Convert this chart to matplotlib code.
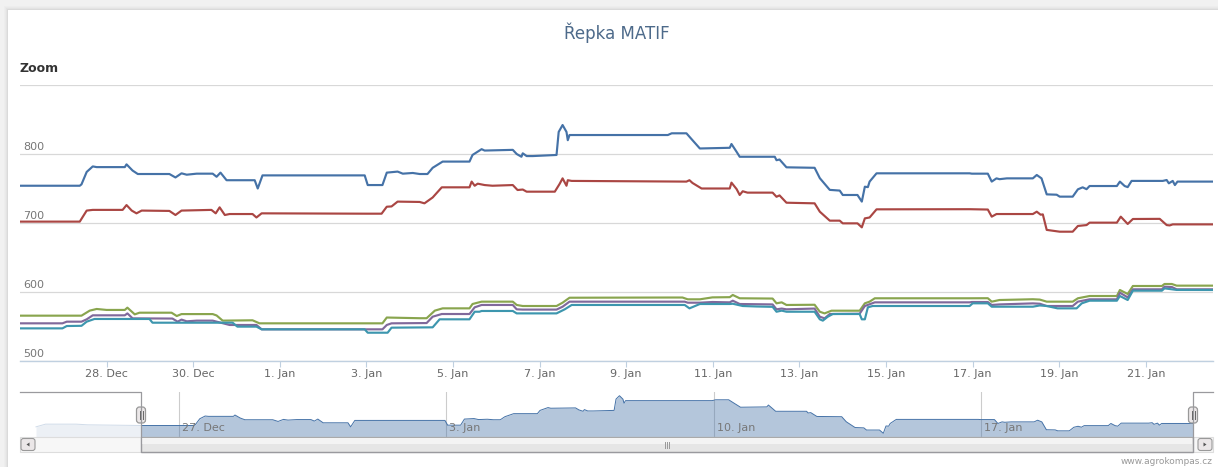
import numpy as np
import matplotlib
matplotlib.use("Agg")
import matplotlib.pyplot as plt
import matplotlib.dates as mdates
import matplotlib.transforms as mtransforms
from matplotlib.patches import Rectangle, FancyBboxPatch, Polygon

# ---------------- data ----------------
TITLE = "Řepka MATIF"
START = "2012-12-26"          # day offsets below are counted from this date
VIEW_END = 27.55              # end of the zoomed window (days)

blue_days = [-2.75, -2.5, -1.7, -1.4, 0, 1.38, 1.42, 1.54, 1.68, 1.77, 2.42, 2.46, 2.60, 2.72, 3.45, 3.59,
             3.73, 3.85, 4.08, 4.45, 4.54, 4.63, 4.77, 5.42, 5.49, 5.60, 7.96, 8.03, 8.37, 8.47, 8.72, 8.84,
             9.07, 9.23, 9.41, 9.53, 9.76, 10.38, 10.45, 10.66, 10.73, 11.38, 11.47, 11.58, 11.61, 11.70,
             11.84, 12.39, 12.44, 12.53, 12.62, 12.65, 12.69, 14.96, 15.05, 15.39, 15.53, 15.70, 16.39,
             16.43, 16.55, 16.62, 17.43, 17.47, 17.54, 17.70, 18.35, 18.47, 18.70, 18.93, 19.00, 19.34,
             19.44, 19.51, 19.58, 19.62, 19.78, 21.93, 21.98, 22.35, 22.44, 22.55, 22.62, 22.79, 23.39,
             23.48, 23.59, 23.71, 23.94, 24.01, 24.31, 24.43, 24.54, 24.63, 24.70, 25.33, 25.40, 25.51,
             25.58, 25.67, 26.39, 26.48, 26.53, 26.62, 26.67, 26.73, 27.59]
blue_vals = [750, 758, 758, 756, 754, 754, 756, 774, 782, 781, 781, 785, 776, 771, 771, 766,
             772, 770, 771.5, 771.5, 767, 773, 762, 762, 750, 769, 769, 755, 755, 773, 774.5, 771.5,
             772.5, 771, 771, 780, 789, 789, 798.6, 807, 805, 806, 800, 796, 801, 797,
             797, 798.6, 832, 842, 832, 820, 827.5, 827.5, 830, 830, 820, 808, 809,
             814.5, 803, 796, 796, 791, 792, 780.7, 780, 765, 748, 747, 740.6, 740.6,
             731, 752.6, 752, 760, 772, 772, 771.5, 771.5, 760, 764.7, 763.5, 764.7, 764.7,
             769.6, 764.7, 741.5, 741, 738.2, 738.2, 748.8, 751.7, 749, 753.6, 753.6, 760, 753.6,
             752, 761, 761, 762.3, 757.5, 761, 755, 760, 760]

red_days = [0, 1.38, 1.54, 1.68, 2.37, 2.46, 2.58, 2.69, 2.81, 3.45, 3.59, 3.73, 4.42, 4.52, 4.61, 4.73,
            4.84, 5.37, 5.46, 5.58, 8.00, 8.35, 8.47, 8.58, 8.72, 9.23, 9.34, 9.53, 9.74, 10.38, 10.43,
            10.50, 10.57, 10.73, 10.91, 11.38, 11.49, 11.61, 11.70, 12.35, 12.46, 12.53, 12.62, 12.65,
            12.74, 15.39, 15.46, 15.53, 15.74, 16.39, 16.43, 16.55, 16.62, 16.69, 16.80, 17.38, 17.47,
            17.54, 17.70, 18.35, 18.47, 18.70, 18.93, 19.00, 19.34, 19.44, 19.51, 19.62, 19.78, 21.93,
            22.35, 22.44, 22.55, 23.39, 23.48, 23.57, 23.62, 23.71, 24.01, 24.31, 24.43, 24.63, 24.70,
            25.33, 25.42, 25.58, 25.70, 26.32, 26.48, 26.55, 26.62, 27.59]
red_vals = [702, 702, 718, 719, 719, 726, 718, 714, 718, 717.5, 711.6, 718, 719, 714, 722.7, 711.6,
            713, 713, 708, 714, 713.5, 713.5, 723.6, 724, 731, 730.5, 728.5, 737, 751.7, 751.7, 760,
            754, 757, 755, 754, 755, 747.8, 748.5, 745.4, 745.4, 756.5, 764.7, 754, 762,
            761, 760, 762, 758, 750, 750, 758.5, 749, 740.6, 746, 744, 744, 738,
            740, 729.4, 728.5, 716.4, 703.4, 703.4, 699.5, 699.5, 693.7, 706.7, 708, 719.8, 720,
            719.5, 709.2, 713, 713, 716.4, 712, 712.5, 690, 687.4, 687.4, 695.7, 697, 700.5,
            700.5, 709.2, 698.6, 705.8, 706, 697, 696.5, 698, 698]

green_days = [0, 1.42, 1.61, 1.77, 2.00, 2.42, 2.48, 2.65, 2.76, 3.50, 3.62, 3.73, 4.45, 4.54, 4.68, 5.37,
              5.53, 8.37, 8.47, 9.23, 9.39, 9.58, 9.76, 10.38, 10.45, 10.66, 11.38, 11.47, 11.61, 12.39,
              12.53, 12.69, 15.00, 15.30, 15.42, 15.70, 15.99, 16.39, 16.46, 16.62, 17.38, 17.47, 17.59,
              17.70, 18.35, 18.47, 18.58, 18.74, 19.39, 19.51, 19.62, 19.74, 21.93, 22.35, 22.44, 22.62,
              23.39, 23.55, 23.71, 24.31, 24.43, 24.70, 25.33, 25.40, 25.58, 25.70, 26.37, 26.43, 26.60,
              26.71, 27.59]
green_vals = [565.7, 565.7, 573, 575.4, 574, 574, 577.3, 567.6, 570, 570, 565.2, 568, 568, 566, 558.5, 559,
              554.6, 554.6, 563, 562, 562, 573, 576.3, 576.3, 582.6, 586, 586, 581.2, 579.7, 579.7,
              584.5, 591.7, 592, 592, 589.4, 589.4, 592.2, 592.5, 595.7, 590.9, 590.5, 583.6, 585,
              581.2, 581.5, 571.4, 569, 572.9, 572.9, 583.6, 586, 590.9, 590.9, 591, 586, 588.4,
              589.5, 589, 586, 586, 590.9, 594.2, 594.2, 602.9, 597.1, 608.7, 608.7, 611.6, 611.6,
              609.2, 609.2]

purple_days = [0, 0.98, 1.08, 1.42, 1.54, 1.68, 2.42, 2.48, 2.60, 3.52, 3.64, 3.73, 3.85, 4.08, 4.45, 4.84,
               5.46, 5.58, 8.37, 8.47, 8.58, 9.39, 9.53, 9.74, 10.38, 10.50, 10.66, 11.38, 11.47, 11.61,
               12.39, 12.53, 12.69, 15.35, 15.42, 15.70, 15.99, 16.39, 16.46, 16.62, 17.38, 17.47, 17.59,
               17.70, 18.35, 18.47, 18.58, 18.70, 19.39, 19.51, 19.74, 21.93, 21.98, 22.35, 22.44, 22.62,
               23.39, 23.55, 23.71, 24.31, 24.43, 24.70, 25.33, 25.40, 25.58, 25.70, 26.37, 26.43, 26.60,
               26.71, 27.59]
purple_vals = [554.6, 554.6, 557, 557, 560.4, 566.2, 566.2, 569, 561.8, 561.5, 557, 560, 557.5, 558.5, 558.5, 552.2,
               552.2, 545.9, 545.9, 552.2, 554.6, 555, 564.2, 568.1, 568.1, 577.8, 581.2, 581.2, 574.9, 574.5,
               574.5, 578.7, 586, 586, 584.5, 584.5, 585.5, 585, 587.4, 582.6, 582, 574.9, 576,
               574.9, 576, 564.2, 561.8, 568.1, 568.5, 579.7, 585, 585, 585.5, 585.5, 581.2, 582,
               583.5, 583, 579.7, 579.7, 586, 589.4, 589.4, 599, 592.2, 603.9, 603.9, 607.7, 607.2,
               603.9, 603.9]

teal_days = [0, 0.98, 1.08, 1.42, 1.54, 1.72, 2.99, 3.06, 4.91, 5.02, 5.46, 5.58, 7.96, 8.03, 8.49, 8.58,
             9.53, 9.69, 10.38, 10.50, 10.61, 10.66, 11.38, 11.47, 12.39, 12.58, 12.74, 15.35, 15.46, 15.70,
             16.39, 16.46, 16.69, 17.01, 17.38, 17.47, 17.59, 17.70, 18.35, 18.47, 18.54, 18.65, 18.77,
             19.39, 19.44, 19.51, 19.58, 19.69, 21.93, 22.00, 22.35, 22.44, 23.39, 23.55, 23.71, 23.96,
             24.40, 24.52, 24.70, 25.33, 25.40, 25.58, 25.70, 26.37, 26.43, 26.71, 27.59]
teal_vals = [547.3, 547.3, 550.7, 551, 557, 560.9, 560.9, 555.5, 555.5, 549.8, 549.8, 545.9, 545.9, 541, 541, 548.3,
             548.8, 560.4, 560.4, 571.4, 571.4, 572.5, 572.5, 569, 569, 574.9, 581.2, 581.2, 576.3, 582.6,
             582.6, 583, 579.7, 579, 578.5, 571.4, 573, 571.4, 571.4, 560.4, 558.5, 564, 568.1,
             568.1, 560.4, 560.4, 577.8, 579.7, 579.7, 583.6, 583.6, 578.7, 578.7, 580.5, 579.7, 576.3,
             576.3, 583.6, 587.4, 587.4, 594.2, 588.4, 601.9, 601.9, 605.3, 603, 602.9]

series = [
    (blue_days, blue_vals, "#4572A7"),
    (red_days, red_vals, "#AA4643"),
    (green_days, green_vals, "#89A54E"),
    (purple_days, purple_vals, "#80699B"),
    (teal_days, teal_vals, "#3D96AE"),
]

x_tick_dates = ["2012-12-28", "2012-12-30", "2013-01-01", "2013-01-03", "2013-01-05", "2013-01-07",
                "2013-01-09", "2013-01-11", "2013-01-13", "2013-01-15", "2013-01-17", "2013-01-19",
                "2013-01-21"]
nav_tick_dates = ["2012-12-27", "2013-01-03", "2013-01-10", "2013-01-17"]
y_ticks = [500, 600, 700, 800, 900]
y_labels = ["500", "600", "700", "800"]
NAV_YLIM = (720, 853)

# ---------------- helpers ----------------
W, H = 1218, 467
base = mdates.date2num(np.datetime64(START))


def to_x(days):
    return base + np.asarray(days, dtype=float)


def fmt_date(s):
    d = mdates.num2date(mdates.date2num(np.datetime64(s)))
    return f"{d.day}. {d.strftime('%b')}"


def fig_rect(x0, y0, x1, y1):
    return [x0 / W, 1 - y1 / H, (x1 - x0) / W, (y1 - y0) / H]


fig = plt.figure(figsize=(W / 100, H / 100), dpi=100)
fig.patch.set_facecolor("#f1f1f1")

# background card
bg = fig.add_axes([0, 0, 1, 1], zorder=-10)
bg.set_xlim(0, W)
bg.set_ylim(H, 0)
bg.axis("off")
for i, a in enumerate([0.04, 0.05, 0.07, 0.1]):
    bg.add_patch(Rectangle((8 - 4 + i, 10 - 4 + i), W, H, facecolor="#000000", alpha=a * 0.35, lw=0))
bg.add_patch(Rectangle((8, 10), W, H, facecolor="white", lw=0))

# ---------------- main chart ----------------
ax = fig.add_axes(fig_rect(20, 85, 1213, 361))
ax.set_facecolor("none")
for d, v, c in series:
    ax.plot(to_x(d), v, color=c, lw=1.55, solid_joinstyle="round", zorder=3)
ax.set_xlim(base, base + VIEW_END)
ax.set_ylim(y_ticks[0], y_ticks[-1])
ax.set_yticks(y_ticks)
ax.yaxis.grid(True, color="#d8d8d8", lw=0.9)
ax.tick_params(axis="y", length=0, labelleft=False)
for s in ["top", "right", "left"]:
    ax.spines[s].set_visible(False)
ax.spines["bottom"].set_color("#c0d0e0")
ax.spines["bottom"].set_linewidth(1.0)
xt = [mdates.date2num(np.datetime64(s)) for s in x_tick_dates]
ax.set_xticks(xt)
ax.set_xticklabels([fmt_date(s) for s in x_tick_dates])
ax.tick_params(axis="x", length=4, width=0.8, color="#c0d0e0", labelsize=8, labelcolor="#666666", pad=1.5)
off = mtransforms.offset_copy(ax.get_yaxis_transform(), fig=fig, x=3, y=2, units="dots")
for v, lab in zip(y_ticks, y_labels):
    ax.text(0, v, lab, transform=off, ha="left", va="bottom", fontsize=8, color="#777777")

fig.text(617 / W, 1 - 33 / H, TITLE, ha="center", va="center", fontsize=12, color="#4d6a8a")
fig.text(20 / W, 1 - 68 / H, "Zoom", ha="left", va="center", fontsize=9, fontweight="bold", color="#333333")
fig.text(1213 / W, 1 - 461 / H, "www.agrokompas.cz", ha="right", va="center", fontsize=6.5, color="#999999")

# ---------------- navigator ----------------
pxd = (1193 - 141) / VIEW_END
nav_left = -121 / pxd
nav_right = VIEW_END + 20 / pxd
nav = fig.add_axes(fig_rect(20, 392, 1213, 437))
nav.set_facecolor("none")
nx = to_x(blue_days)
nav.fill_between(nx, NAV_YLIM[0], blue_vals, color="#4572A7", alpha=0.4, lw=0, zorder=2)
nav.plot(nx, blue_vals, color="#4572A7", lw=0.7, zorder=3)
nav.set_xlim(base + nav_left, base + nav_right)
nav.set_ylim(*NAV_YLIM)
nav.axis("off")
for s in nav_tick_dates:
    t = mdates.date2num(np.datetime64(s))
    nav.axvline(t, color="#cccccc", lw=0.8, zorder=1)
    nav.annotate(fmt_date(s), (t, NAV_YLIM[0]), xytext=(3, 4), textcoords="offset pixels",
                 ha="left", va="bottom", fontsize=8, color="#777777", zorder=5)
# masks outside the selected window
nav.axvspan(base + nav_left, base, color="white", alpha=0.75, lw=0, zorder=4)
nav.axvspan(base + VIEW_END, base + nav_right, color="white", alpha=1.0, lw=0, zorder=4)

# ---------------- scrollbar & handles (pixel overlay) ----------------
ov = fig.add_axes([0, 0, 1, 1], zorder=10)
ov.set_xlim(0, W)
ov.set_ylim(H, 0)
ov.axis("off")
ov.add_patch(Rectangle((20, 437), 1193, 15, facecolor="#f7f7f7", edgecolor="#dddddd", lw=0.8))
ov.add_patch(Rectangle((141, 437), 1193 - 141, 15, facecolor="#e6e6e6", edgecolor="#aaaaaa", lw=0.9))
ov.add_patch(Rectangle((142, 438), 1193 - 143, 6, facecolor="#f4f4f4", lw=0))
for dx in (-2, 0, 2):
    ov.plot([667 + dx, 667 + dx], [442, 448], color="#999999", lw=0.7)
for bx, d in ((20, -1), (1197, 1)):
    ov.add_patch(FancyBboxPatch((bx + 1, 438.5), 14, 12, boxstyle="round,pad=0,rounding_size=2.5",
                                facecolor="#ebe7e8", edgecolor="#999999", lw=0.8))
    cx = bx + 8
    ov.add_patch(Polygon([(cx + 1.5 * d, 444.5), (cx - 1.5 * d, 442.5), (cx - 1.5 * d, 446.5)],
                         closed=True, facecolor="#555555", lw=0))
# navigator outline
ov.plot([20, 141, 141, 1193, 1193, 1213], [392, 392, 452, 452, 392, 392], color="#9a9a9e", lw=0.9)
for hx in (141, 1193):
    ov.add_patch(FancyBboxPatch((hx - 4.5, 407), 9, 16, boxstyle="round,pad=0,rounding_size=3",
                                facecolor="#ebe7e8", edgecolor="#999999", lw=0.9))
    for dx in (-1.5, 1.5):
        ov.plot([hx + dx, hx + dx], [411, 419], color="#666666", lw=0.7)

fig.savefig("out.png", dpi=100, facecolor=fig.get_facecolor())
